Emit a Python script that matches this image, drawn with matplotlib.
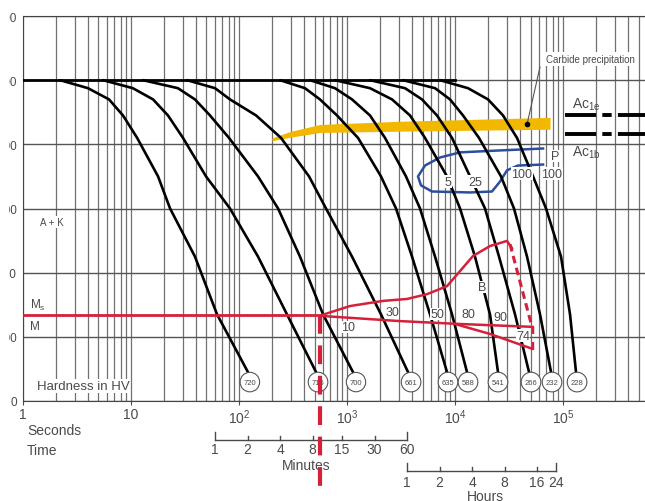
import numpy as np
import matplotlib.pyplot as plt
from matplotlib.patches import Rectangle
from matplotlib.ticker import FixedLocator, FixedFormatter, NullFormatter

plt.rcParams['font.family'] = ['Liberation Sans', 'DejaVu Sans']
plt.rcParams['mathtext.fontset'] = 'custom'
plt.rcParams['mathtext.rm'] = 'Liberation Sans'
plt.rcParams['mathtext.it'] = 'Liberation Sans:italic'

# temperature levels (degC) at which each cooling curve was read
curve_temps = [1000, 975, 940, 890, 820, 700, 600, 450, 270, 90]
# time (s) of each cooling curve at those temperatures
curve_times = [
    [2.20, 4.00, 6.26, 8.43, 11.4, 17.8, 23.0, 39.1, 62.6, 121],
    [5.51, 10.4, 16.0, 22.0, 30.3, 49.5, 82.5, 150, 278, 517],
    [12.9, 27.2, 39.1, 53.9, 80.8, 150, 230, 367, 600, 1136],
    [33.0, 60.0, 82.5, 144, 245, 445, 639, 1113, 2064, 3672],
    [240, 408, 562, 808, 1265, 2064, 2842, 3999, 5870, 8433],
    [454, 774, 1113, 1633, 2249, 3516, 4742, 6531, 9380, 12910],
    [774, 1633, 2612, 3832, 5275, 8433, 11130, 15310, 21080, 25000],
    [1633, 3443, 4946, 6810, 9380, 13770, 18950, 25550, 35940, 48450],
    [3300, 6531, 8990, 11860, 16680, 26660, 35170, 46420, 61240, 77440],
    [7260, 13190, 20220, 27830, 37500, 52760, 69630, 95790, 116100, 131900],
]
hardness = ['720', '715', '700', '661', '635', '588', '541', '266', '232', '228']
hardness_t = [126, 539, 1211, 3917, 8610, 13190, 25000, 50550, 79100, 134900]
hardness_temp = 59

# carbide precipitation band
carbide_t = [202, 297, 562, 3097, 75800]
carbide_hi = [820, 840, 862, 872, 884]
carbide_lo = [811, 822, 837, 841, 847]

# pearlite region outline
pearl_t = [65300, 26100, 11130, 7260, 5275, 4540, 4845, 6120, 13770, 22000,
           26100, 30300, 38300, 65300]
pearl_temp = [787, 781, 775, 759, 734, 700, 672, 653, 650, 653, 684, 719, 734, 737]

ms_temp = 268
ms_end_t = 587
bs_t = [587, 1066, 2154, 3594, 5505, 8433, 11130, 14680, 21080, 30300, 33700]
bs_temp = [268, 296, 312, 318, 333, 358, 405, 452, 483, 499, 476]
mid_t = [587, 3097, 11130, 52700, 52700]
mid_temp = [265, 249, 240, 231, 213]
low_t = [10000, 21080, 52700, 52700]
low_temp = [240, 209, 162, 180]
dash_t = [32290, 51640]
dash_temp = [489, 231]
quench_t = 562

ac1e, ac1b = 891, 832
ac_start_t = 104400

minutes = [1, 2, 4, 8, 15, 30, 60]
hours = [1, 2, 4, 8, 16, 24]
temp_ticks = [0, 200, 400, 600, 800, 1000, 1200]

p_labels = [('P', 84300, 764), ('5', 8610, 683), ('25', 15310, 683),
            ('100', 41700, 708), ('100', 79100, 708)]
r_labels = [('10', 1021, 231), ('30', 2612, 277), ('50', 6810, 271),
            ('80', 13190, 271), ('90', 26100, 262), ('74', 42650, 203),
            ('B', 17780, 355)]

RED = '#d6203a'
GREY = '#4a4a4a'
XMAX = 10 ** 5.759

fig = plt.figure(figsize=(6.45, 5.02), dpi=100)
ax = fig.add_axes([23 / 645, 100 / 502, 622 / 645, 385 / 502])
ax.set_xscale('log')
ax.set_xlim(1, XMAX)
ax.set_ylim(0, 1200)

ax.xaxis.set_major_locator(FixedLocator([1, 10, 1e2, 1e3, 1e4, 1e5]))
ax.xaxis.set_major_formatter(FixedFormatter(
    ['1', '10', r'$\mathregular{10^2}$', r'$\mathregular{10^3}$',
     r'$\mathregular{10^4}$', r'$\mathregular{10^5}$']))
minor = [m * 10 ** d for d in range(0, 6) for m in range(2, 10)]
ax.xaxis.set_minor_locator(FixedLocator(minor))
ax.xaxis.set_minor_formatter(NullFormatter())
ax.set_yticks(temp_ticks)
ax.tick_params(axis='x', which='major', length=3, pad=1.5, labelsize=10,
               colors=GREY, direction='out')
ax.tick_params(axis='x', which='minor', length=0)
ax.tick_params(axis='y', length=0, pad=4.5, labelsize=8.5, labelcolor=GREY)
ax.grid(True, axis='x', which='both', color='#707070', lw=0.9)
ax.grid(True, axis='y', which='major', color='#555555', lw=1.0)
ax.set_axisbelow(True)
for s in ['left', 'bottom', 'top']:
    ax.spines[s].set_color('#444444')
ax.spines['right'].set_visible(False)

# carbide band
ax.fill_between(carbide_t, carbide_lo, carbide_hi, color='#f2b800', lw=0, zorder=2)

# pearlite
ax.plot(pearl_t, pearl_temp, color='#2b4f9e', lw=1.8, zorder=3)

# austenitizing line and cooling curves
ax.plot([1, 10000], [1000, 1000], color='black', lw=2, zorder=4)
for times in curve_times:
    ax.plot(times, curve_temps, color='black', lw=1.9, zorder=4,
            solid_capstyle='round', solid_joinstyle='round')

# hardness circles
for h, t in zip(hardness, hardness_t):
    ax.text(t, hardness_temp, h, fontsize=5.5, ha='center', va='center', color=GREY,
            zorder=6, bbox=dict(boxstyle='circle,pad=0.45', fc='white', ec='#555555', lw=0.8))

# martensite / bainite lines
ax.plot([1, ms_end_t], [ms_temp, ms_temp], color=RED, lw=2, zorder=5)
ax.plot(bs_t, bs_temp, color=RED, lw=1.8, zorder=5, solid_joinstyle='round')
ax.plot(mid_t, mid_temp, color=RED, lw=1.8, zorder=5)
ax.plot(low_t, low_temp, color=RED, lw=1.8, zorder=5)
ax.plot(dash_t, dash_temp, color=RED, lw=2.2, ls=(0, (2.5, 1.5)), zorder=5)
trans = ax.get_xaxis_transform()
ax.plot([quench_t, quench_t], [ms_temp / 1200, -0.229], color=RED, lw=3,
        ls=(0, (4.5, 2.8)), transform=trans, clip_on=False, zorder=7)

# Ac lines
for ac in (ac1e, ac1b):
    ax.plot([ac_start_t, XMAX], [ac, ac], color='black', lw=2.8,
            ls=(0, (8, 1.6, 2.4, 1.6)), zorder=4)
ax.text(121000, 926, r'$\mathregular{Ac_{1e}}$', fontsize=10, color=GREY, va='center', zorder=6)
ax.text(121000, 776, r'$\mathregular{Ac_{1b}}$', fontsize=10, color=GREY, va='center', zorder=6)

# carbide label
ax.plot([46450, 61200], [863, 1041], color='#555555', lw=0.8, zorder=6)
ax.plot([46450], [863], 'o', color='black', ms=3, zorder=6)
ax.text(177800, 1066, 'Carbide precipitation', fontsize=7, color=GREY, ha='center',
        va='center', zorder=6, bbox=dict(fc='white', ec='none', pad=1.5))

for s, t, y in p_labels + r_labels:
    ax.text(t, y, s, fontsize=9, color=GREY, ha='center', va='center', zorder=6,
            bbox=dict(fc='white', ec='none', pad=0.3))

ax.text(1.86, 558, 'A + K', fontsize=7, color=GREY, ha='center', va='center',
        zorder=6, bbox=dict(fc='white', ec='none', pad=0.5))
ax.text(1.35, 47, 'Hardness in HV', fontsize=9.5, color=GREY, ha='left', va='center',
        zorder=6, bbox=dict(fc='white', ec='none', pad=0.5))
ax.text(1.16, 302, r'$\mathregular{M_s}$', fontsize=8.5, color=GREY, va='center', zorder=6)
ax.text(1.16, 234, 'M', fontsize=8.5, color=GREY, va='center', zorder=6)

# time scales below the axis
ax.text(4 / 622, -0.075, 'Seconds', fontsize=10, color=GREY, transform=ax.transAxes,
        ha='left', va='center')
ax.text(4 / 622, -0.127, 'Time', fontsize=10, color=GREY, transform=ax.transAxes,
        ha='left', va='center')

min_s = [m * 60 for m in minutes]
ax.plot([min_s[0], min_s[-1]], [-0.101, -0.101], color=GREY, lw=1, transform=trans, clip_on=False)
for i, (m, s) in enumerate(zip(minutes, min_s)):
    top = -0.08 if i in (0, len(minutes) - 1) else -0.09
    ax.plot([s, s], [-0.101, top], color=GREY, lw=1, transform=trans, clip_on=False)
    ax.text(s, -0.125, str(m), fontsize=10, color=GREY, ha='center', va='center',
            transform=trans)
ax.text(10 ** 2.62, -0.166, 'Minutes', fontsize=10, color=GREY, ha='center', va='center',
        transform=trans)

hour_s = [h * 3600 for h in hours]
ax.plot([hour_s[0], hour_s[-1]], [-0.182, -0.182], color=GREY, lw=1, transform=trans, clip_on=False)
for i, (h, s) in enumerate(zip(hours, hour_s)):
    top = -0.161 if i in (0, len(hours) - 1) else -0.171
    ax.plot([s, s], [-0.182, top], color=GREY, lw=1, transform=trans, clip_on=False)
    ax.text(s, -0.21, str(h), fontsize=10, color=GREY, ha='center', va='center',
            transform=trans)
ax.text(10 ** 4.278, -0.247, 'Hours', fontsize=10, color=GREY, ha='center', va='center',
        transform=trans)

# the source image is cropped at its left edge
fig.add_artist(Rectangle((0, 0), 9 / 645, 1, transform=fig.transFigure,
                         fc='white', ec='none', zorder=20))

fig.savefig('out.png', dpi=100)
